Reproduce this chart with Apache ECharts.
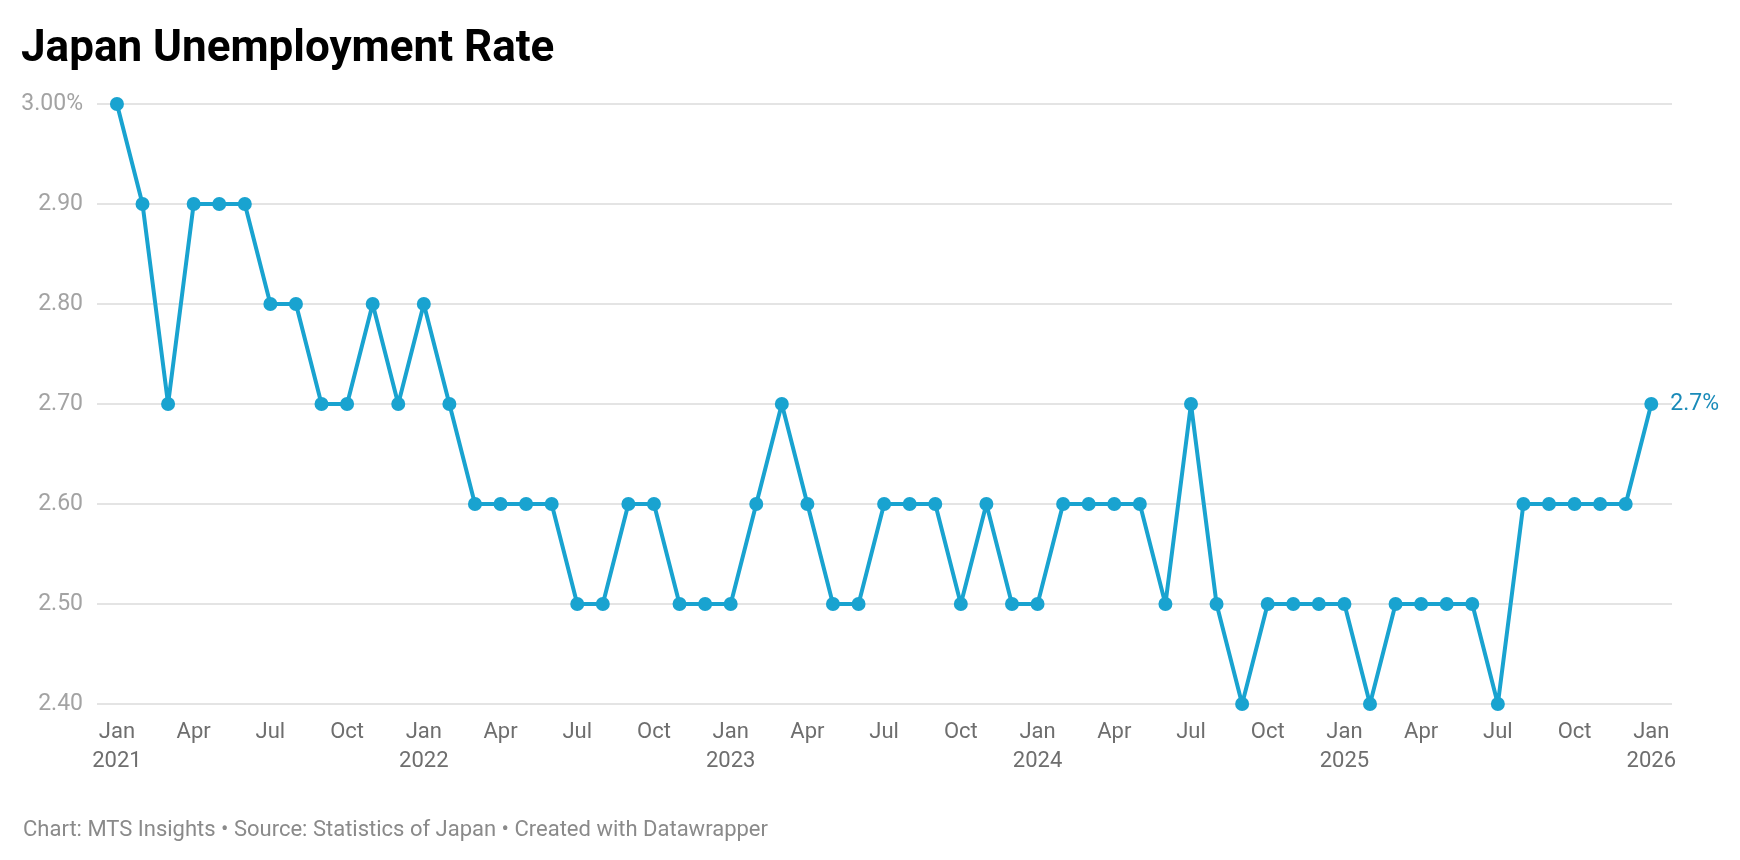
<!DOCTYPE html>
<html>
<head>
<meta charset="utf-8">
<script src="https://cdn.jsdelivr.net/npm/echarts@6/dist/echarts.min.js"></script>
<style>
html,body{margin:0;padding:0;background:#fff;}
#chart{width:1740px;height:860px;}
</style>
</head>
<body>
<div id="chart"></div>
<script>
// Monthly unemployment rate (%), Jan 2021 .. Jan 2026
const rates2021 = [3.0, 2.9, 2.7, 2.9, 2.9, 2.9, 2.8, 2.8, 2.7, 2.7, 2.8, 2.7];
const rates2022 = [2.8, 2.7, 2.6, 2.6, 2.6, 2.6, 2.5, 2.5, 2.6, 2.6, 2.5, 2.5];
const rates2023 = [2.5, 2.6, 2.7, 2.6, 2.5, 2.5, 2.6, 2.6, 2.6, 2.5, 2.6, 2.5];
const rates2024 = [2.5, 2.6, 2.6, 2.6, 2.6, 2.5, 2.7, 2.5, 2.4, 2.5, 2.5, 2.5];
const rates2025 = [2.5, 2.4, 2.5, 2.5, 2.5, 2.5, 2.4, 2.6, 2.6, 2.6, 2.6, 2.6];
const rates2026 = [2.7];
const rates = [].concat(rates2021, rates2022, rates2023, rates2024, rates2025, rates2026);

// x tick labels every 3 months (month index 0, 3, ..., 60)
const tickMonths = ['Jan', 'Apr', 'Jul', 'Oct'];
const tickYears = ['2021', '2022', '2023', '2024', '2025', '2026'];
const tickIndices = [];
for (let i = 0; i <= 60; i += 3) tickIndices.push(i);

// y ticks
const yMin = 2.4, yMax = 3.0, yStep = 0.1;

const seriesData = rates.map((v, i) => [i, v]);

const chart = echarts.init(document.getElementById('chart'));
chart.setOption({
  animation: false,
  backgroundColor: '#ffffff',
  textStyle: { fontFamily: 'Roboto' },
  title: [{
    text: 'Japan Unemployment Rate',
    left: 16, top: 23,
    textStyle: { fontFamily: 'Roboto', fontWeight: 'bold', fontSize: 44, color: '#000000' }
  }, {
    text: 'Chart: MTS Insights • Source: Statistics of Japan • Created with Datawrapper',
    left: 18, top: 814,
    textStyle: { fontFamily: 'Roboto', fontWeight: 'normal', fontSize: 22, color: '#8a8a8a' }
  }],
  grid: { left: 97, right: 68, top: 104, bottom: 156, containLabel: false },
  xAxis: {
    type: 'value',
    min: -0.78,
    max: 60.81,
    axisLine: { show: false },
    axisTick: { show: false },
    splitLine: { show: false },
    axisLabel: {
      customValues: tickIndices,
      margin: 14,
      fontSize: 22,
      lineHeight: 29,
      color: '#6e6e6e',
      fontFamily: 'Roboto',
      formatter: function (v) {
        const m = Math.round(v);
        const mon = tickMonths[(m % 12) / 3];
        if (m % 12 === 0) return mon + '\n' + tickYears[m / 12];
        return mon;
      }
    }
  },
  yAxis: {
    type: 'value',
    min: yMin,
    max: yMax,
    interval: yStep,
    axisLine: { show: false },
    axisTick: { show: false },
    splitLine: { show: true, lineStyle: { color: '#e4e4e4', width: 2 } },
    axisLabel: {
      margin: 14,
      fontSize: 23,
      color: '#a3a3a3',
      fontFamily: 'Roboto',
      formatter: function (v) {
        const s = v.toFixed(2);
        return Math.abs(v - yMax) < 1e-9 ? s + '%' : s;
      }
    }
  },
  series: [{
    type: 'line',
    data: seriesData,
    symbol: 'circle',
    symbolSize: 14,
    lineStyle: { color: '#19a3d0', width: 4 },
    itemStyle: { color: '#19a3d0' },
    endLabel: {
      show: true,
      distance: 19,
      fontSize: 23,
      color: '#1a8bb9',
      fontFamily: 'Roboto',
      formatter: function (p) { return p.value[1].toFixed(1) + '%'; }
    }
  }]
});
</script>
</body>
</html>
